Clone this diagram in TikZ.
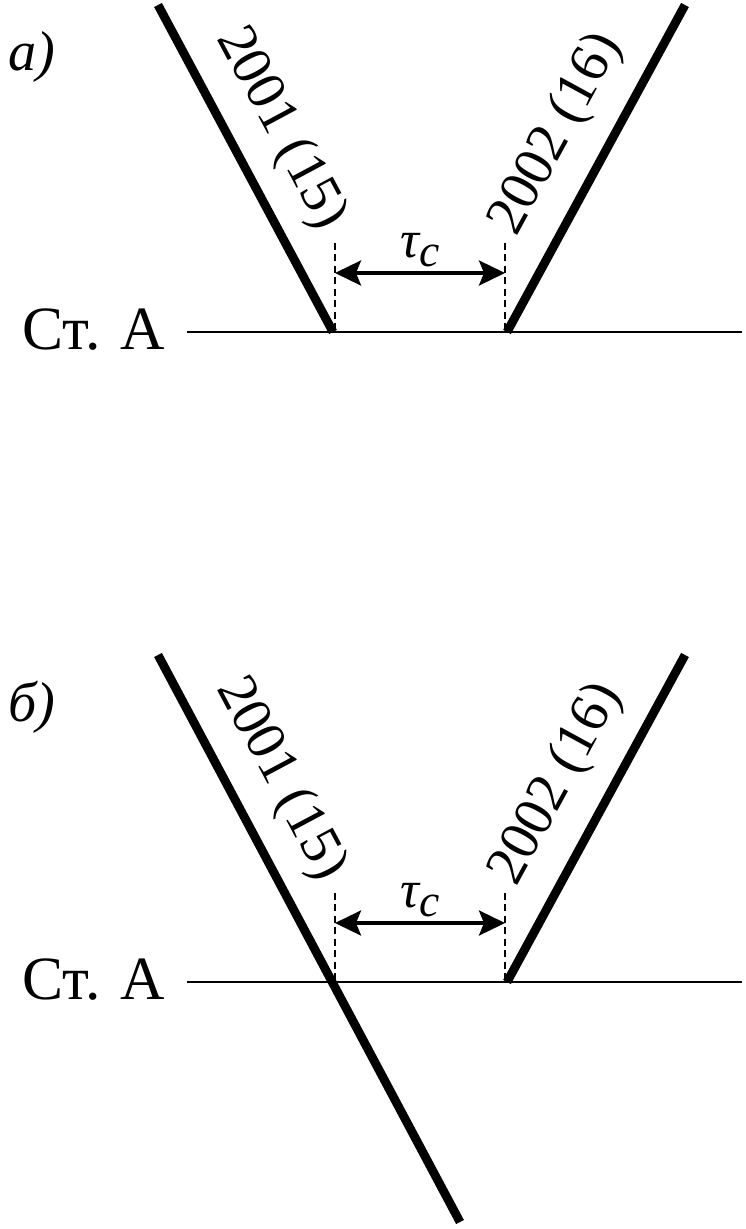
\documentclass[tikz,border=0pt]{standalone}
\usepackage{fontspec}
\setmainfont{Liberation Serif}
\usetikzlibrary{arrows.meta, positioning}
\tikzset{
    train/.style={line width=5pt},
    station/.style={line width=1.3pt},
    guide/.style={line width=0.7pt, dash pattern=on 4pt off 2.5pt},
    span/.style={{Stealth[length=5.2mm, width=5mm, inset=1mm]}-{Stealth[length=5.2mm, width=5mm, inset=1mm]}, line width=2pt},
    stname/.style={font=\fontsize{35}{37}\selectfont, inner sep=0pt},
    panel/.style={font=\itshape\fontsize{32}{34}\selectfont, inner sep=0pt},
    trainlbl/.style={font=\fontsize{32}{34}\selectfont, inner sep=1pt, sloped},
    taulbl/.style={font=\itshape\fontsize{30}{32}\selectfont, inner sep=0pt},
}
\newcommand{\tauc}{τ\raisebox{-0.35ex}{\fontsize{26}{28}\selectfont c}}

\begin{document}
\begin{tikzpicture}[x=0.02cm, y=-0.02cm]
    \useasboundingbox (0,0) rectangle (746,1229);

    % a) trains meet on the station
    \node[panel] (alab) at (32,57) {а)};
    \node[stname] (ast) at (94,330) {Ст. А};
    \coordinate (aw) at (187,332);
    \coordinate (ae) at (742,332);
    \coordinate (a1top) at (158,5);
    \coordinate (a1bot) at (333,332);
    \coordinate (a2top) at (685,5);
    \coordinate (a2bot) at (507,332);
    \coordinate (agl) at (335,243);
    \coordinate (agr) at (505,243);
    \coordinate (aarl) at (335,273);
    \coordinate (aarr) at (505,273);
    \draw[station] (aw) -- (ae);
    \draw[train] (a1top) -- node[trainlbl, above=0.36cm, pos=0.45] {2001 (15)} (a1bot);
    \draw[train] (a2bot) -- node[trainlbl, above=0.38cm, pos=0.53] {2002 (16)} (a2top);
    \draw[guide] (agl) -- (agl |- aw);
    \draw[guide] (agr) -- (agr |- aw);
    \draw[span] (aarl) -- (aarr);
    \node[taulbl] (atau) at (420,250) {\tauc};

    % b) first train passes the station
    \node[panel] (blab) at (32,707) {б)};
    \node[stname] (bst) at (94,980) {Ст. А};
    \coordinate (bw) at (187,982);
    \coordinate (be) at (742,982);
    \coordinate (b1top) at (158,655);
    \coordinate (b1bot) at (460,1222);
    \coordinate (b2top) at (685,655);
    \coordinate (b2bot) at (507,982);
    \coordinate (bgl) at (335,893);
    \coordinate (bgr) at (505,893);
    \coordinate (barl) at (335,923);
    \coordinate (barr) at (505,923);
    \draw[station] (bw) -- (be);
    \draw[train] (b1top) -- node[trainlbl, above=0.36cm, pos=0.26] {2001 (15)} (b1bot);
    \draw[train] (b2bot) -- node[trainlbl, above=0.38cm, pos=0.53] {2002 (16)} (b2top);
    \draw[guide] (bgl) -- (bgl |- bw);
    \draw[guide] (bgr) -- (bgr |- bw);
    \draw[span] (barl) -- (barr);
    \node[taulbl] (btau) at (420,900) {\tauc};
\end{tikzpicture}
\end{document}
